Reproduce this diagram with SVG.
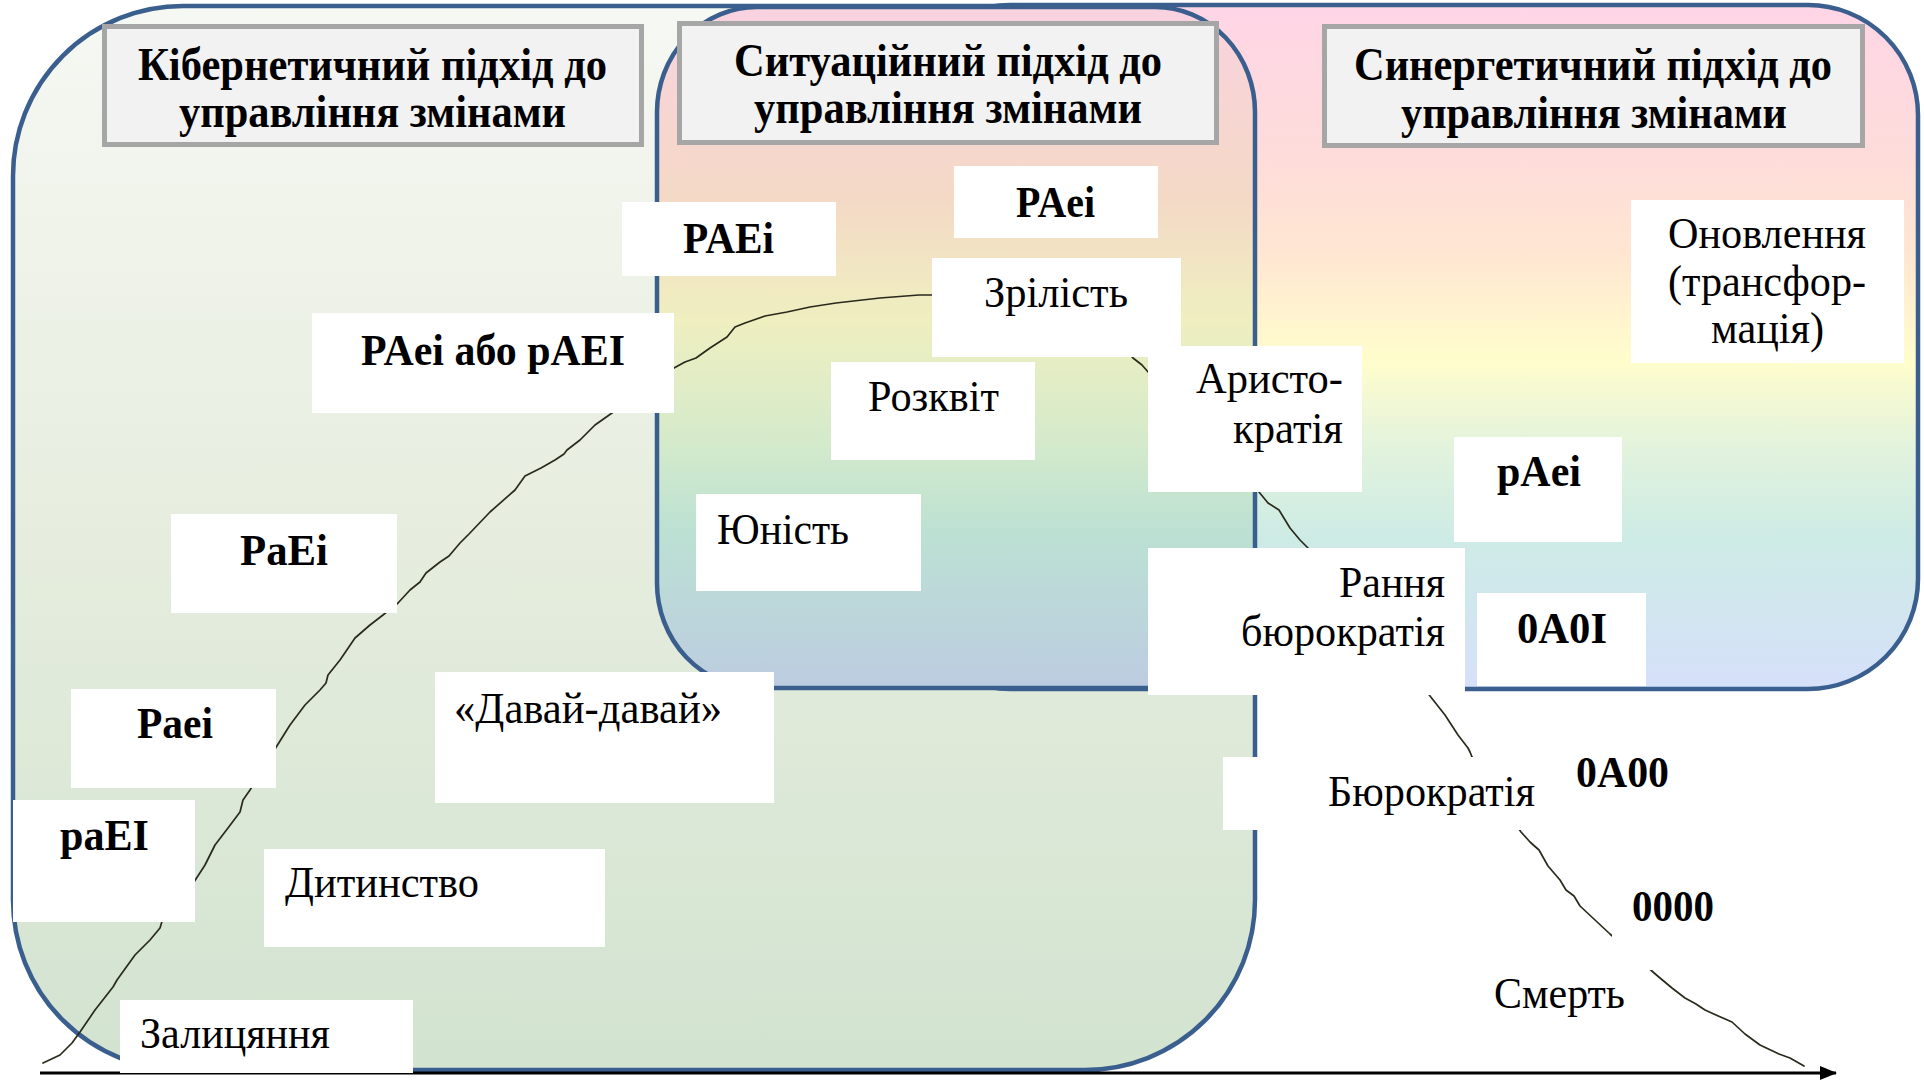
<svg xmlns="http://www.w3.org/2000/svg" width="1924" height="1080" viewBox="0 0 1924 1080">
  <defs>
    <!-- fills of the three approach areas -->
    <linearGradient id="gCyber" gradientUnits="userSpaceOnUse" x1="0" y1="6" x2="0" y2="1070">
      <stop offset="0" stop-color="#F6F8F3"/>
      <stop offset="0.5" stop-color="#E6EDDE"/>
      <stop offset="1" stop-color="#D2E3D0"/>
    </linearGradient>
    <linearGradient id="gSyner" gradientUnits="userSpaceOnUse" x1="0" y1="5" x2="0" y2="689">
      <stop offset="0" stop-color="#FED5E6"/>
      <stop offset="0.22" stop-color="#FEDCDA"/>
      <stop offset="0.36" stop-color="#FFE6D2"/>
      <stop offset="0.52" stop-color="#FFFDCC"/>
      <stop offset="0.65" stop-color="#E2F3DD"/>
      <stop offset="0.78" stop-color="#CDEBE5"/>
      <stop offset="1" stop-color="#D6E0FA"/>
    </linearGradient>
    <linearGradient id="gSitu" gradientUnits="userSpaceOnUse" x1="0" y1="7" x2="0" y2="688">
      <stop offset="0" stop-color="#F9D2E0"/>
      <stop offset="0.28" stop-color="#F4D9C6"/>
      <stop offset="0.46" stop-color="#EFEFC0"/>
      <stop offset="0.64" stop-color="#D4EACB"/>
      <stop offset="0.77" stop-color="#BCE1D3"/>
      <stop offset="1" stop-color="#BCCCE1"/>
    </linearGradient>
    <marker id="arrow" markerWidth="18" markerHeight="14" refX="16" refY="7" orient="auto" markerUnits="userSpaceOnUse">
      <path d="M0,0 L17,7 L0,14 Z" fill="#000"/>
    </marker>
    <style>
      .area { stroke: #3A5F8E; stroke-width: 4.5; }
      .hdr { fill: #F2F2F2; stroke: #A6A6A6; stroke-width: 5; }
      .box { fill: #FFFFFF; }
      .t { font-family: "Liberation Serif", "Times New Roman", serif; font-size: 44px; fill: #000; }
      .b { font-weight: bold; }
      .ttl { font-size: 46px; font-weight: bold; }
      .curve { fill: none; stroke: #2A2A1C; stroke-width: 1.7; stroke-linejoin: round; stroke-linecap: round; }
      .axis { stroke: #000; stroke-width: 3; }
    </style>
  </defs>

  <rect width="1924" height="1080" fill="#FFFFFF"/>

  <!-- approach areas -->
  <g id="area-cybernetic">
    <rect class="area" x="13" y="6" width="1242" height="1064" rx="170" ry="170" fill="url(#gCyber)"/>
  </g>
  <g id="area-synergetic">
    <rect class="area" x="900" y="5" width="1018" height="684" rx="110" ry="110" fill="url(#gSyner)"/>
  </g>
  <g id="area-situational">
    <rect class="area" x="657" y="7" width="598" height="681" rx="100" ry="105" fill="url(#gSitu)" stroke="#485D8C"/>
  </g>

  <!-- time axis and life-cycle curve -->
  <g id="connectors">
    <line class="axis" x1="40" y1="1073" x2="1836" y2="1073" marker-end="url(#arrow)"/>
    <path class="curve" d="M43,1063 L60,1055 L72,1043 L80,1032 L95,1010 L113,987 L117,980 L135,955 L150,940 L160,928 L163,918
      L175,905 L194,882 L205,865 L215,845 L228,828 L240,812 L243,800 L250,790 L262,770 L275,749
      L290,725 L305,705 L320,690 L326,683 L328,675 L340,660 L355,638 L370,625 L383,615 L398,603
      L410,590 L420,582 L426,573 L440,562 L449,556 L460,543 L469,534 L490,512 L515,490 L525,476 L541,468 L555,460 L564,454 L567,450 L580,440 L595,425 L612,413
      L650,385 L674,368 L685,362 L696,358 L710,348 L727,337 L735,327 L745,323 L765,316 L787,312 L810,307 L836,303 L880,298 L919,295 L932,295
      L990,292 L1060,298 L1110,330 L1133,358 L1142,365 L1149,373
      L1220,420 L1259,492 L1268,503 L1279,510 L1290,528 L1300,540 L1308,548
      L1400,650 L1430,696 L1445,715 L1458,735 L1468,748 L1470,752 L1472,757
      L1500,800 L1521,832 L1530,842 L1539,850 L1548,866 L1560,880 L1566,890 L1574,896 L1580,906 L1595,920 L1610,934
      L1653,972 L1660,978 L1672,988 L1685,998 L1696,1004 L1705,1010 L1716,1015 L1732,1022 L1745,1034 L1760,1045 L1779,1054 L1790,1058 L1804,1066"/>
  </g>

  <!-- approach titles -->
  <g id="title-cybernetic">
    <rect class="hdr" x="104.5" y="26.5" width="537" height="118"/>
    <text class="t ttl" x="138" y="80" textLength="469" lengthAdjust="spacingAndGlyphs">Кібернетичний підхід до</text>
    <text class="t ttl" x="179" y="127" textLength="387" lengthAdjust="spacingAndGlyphs">управління змінами</text>
  </g>
  <g id="title-situational">
    <rect class="hdr" x="679.5" y="23.5" width="537" height="119"/>
    <text class="t ttl" x="734" y="76" textLength="428" lengthAdjust="spacingAndGlyphs">Ситуаційний підхід до</text>
    <text class="t ttl" x="754" y="123" textLength="388" lengthAdjust="spacingAndGlyphs">управління змінами</text>
  </g>
  <g id="title-synergetic">
    <rect class="hdr" x="1324.5" y="26.5" width="538" height="119"/>
    <text class="t ttl" x="1354" y="80" textLength="478" lengthAdjust="spacingAndGlyphs">Синергетичний підхід до</text>
    <text class="t ttl" x="1401" y="128" textLength="386" lengthAdjust="spacingAndGlyphs">управління змінами</text>
  </g>

  <!-- life-cycle stages and codes -->
  <g id="code-PAEi">
    <rect class="box" x="622" y="202" width="214" height="74"/>
    <text class="t b" x="683" y="253" textLength="91" lengthAdjust="spacingAndGlyphs">PAEi</text>
  </g>
  <g id="code-PAei">
    <rect class="box" x="954" y="166" width="204" height="72"/>
    <text class="t b" x="1016" y="217" textLength="79" lengthAdjust="spacingAndGlyphs">PAei</text>
  </g>
  <g id="stage-maturity">
    <rect class="box" x="932" y="258" width="249" height="99"/>
    <text class="t" x="984" y="307" textLength="144" lengthAdjust="spacingAndGlyphs">Зрілість</text>
  </g>
  <g id="stage-prime">
    <rect class="box" x="831" y="362" width="204" height="98"/>
    <text class="t" x="868" y="411" textLength="131" lengthAdjust="spacingAndGlyphs">Розквіт</text>
  </g>
  <g id="stage-aristocracy">
    <rect class="box" x="1148" y="346" width="214" height="146"/>
    <text class="t" x="1196" y="393" textLength="147" lengthAdjust="spacingAndGlyphs">Аристо-</text>
    <text class="t" x="1233" y="443" textLength="110" lengthAdjust="spacingAndGlyphs">кратія</text>
  </g>
  <g id="stage-adolescence">
    <rect class="box" x="696" y="494" width="225" height="97"/>
    <text class="t" x="717" y="544" textLength="132" lengthAdjust="spacingAndGlyphs">Юність</text>
  </g>
  <g id="code-PAei-or-pAEI">
    <rect class="box" x="312" y="313" width="362" height="100"/>
    <text class="t b" x="361" y="365" textLength="264" lengthAdjust="spacingAndGlyphs">PAei або pAEI</text>
  </g>
  <g id="code-PaEi">
    <rect class="box" x="171" y="514" width="226" height="99"/>
    <text class="t b" x="240" y="565" textLength="88" lengthAdjust="spacingAndGlyphs">PaEi</text>
  </g>
  <g id="code-Paei">
    <rect class="box" x="71" y="689" width="205" height="99"/>
    <text class="t b" x="137" y="738" textLength="76" lengthAdjust="spacingAndGlyphs">Paei</text>
  </g>
  <g id="code-paEI">
    <rect class="box" x="13" y="800" width="182" height="122"/>
    <text class="t b" x="60" y="850" textLength="89" lengthAdjust="spacingAndGlyphs">paEI</text>
  </g>
  <g id="stage-gogo">
    <rect class="box" x="435" y="672" width="339" height="131"/>
    <text class="t" x="454" y="723" textLength="268" lengthAdjust="spacingAndGlyphs">«Давай-давай»</text>
  </g>
  <g id="stage-infancy">
    <rect class="box" x="264" y="849" width="341" height="98"/>
    <text class="t" x="285" y="897" textLength="194" lengthAdjust="spacingAndGlyphs">Дитинство</text>
  </g>
  <g id="stage-courtship">
    <rect class="box" x="120" y="1000" width="293" height="73"/>
    <text class="t" x="140" y="1048" textLength="190" lengthAdjust="spacingAndGlyphs">Залицяння</text>
  </g>
  <g id="stage-renewal">
    <rect class="box" x="1631" y="200" width="273" height="163"/>
    <text class="t" x="1668" y="248" textLength="198" lengthAdjust="spacingAndGlyphs">Оновлення</text>
    <text class="t" x="1668" y="296" textLength="198" lengthAdjust="spacingAndGlyphs">(трансфор-</text>
    <text class="t" x="1711" y="343" textLength="113" lengthAdjust="spacingAndGlyphs">мація)</text>
  </g>
  <g id="code-pAei">
    <rect class="box" x="1454" y="437" width="168" height="105"/>
    <text class="t b" x="1497" y="486" textLength="84" lengthAdjust="spacingAndGlyphs">pAei</text>
  </g>
  <g id="stage-early-bureaucracy">
    <rect class="box" x="1148" y="548" width="317" height="147"/>
    <text class="t" x="1339" y="597" textLength="106" lengthAdjust="spacingAndGlyphs">Рання</text>
    <text class="t" x="1241" y="646" textLength="204" lengthAdjust="spacingAndGlyphs">бюрократія</text>
  </g>
  <g id="code-0A0I">
    <rect class="box" x="1477" y="593" width="169" height="93"/>
    <text class="t b" x="1517" y="643" textLength="90" lengthAdjust="spacingAndGlyphs">0A0I</text>
  </g>
  <g id="stage-bureaucracy">
    <rect class="box" x="1223" y="757" width="322" height="73"/>
    <text class="t" x="1328" y="806" textLength="207" lengthAdjust="spacingAndGlyphs">Бюрократія</text>
  </g>
  <g id="code-0A00">
    <rect class="box" x="1565" y="742" width="125" height="88"/>
    <text class="t b" x="1576" y="787" textLength="93" lengthAdjust="spacingAndGlyphs">0A00</text>
  </g>
  <g id="code-0000">
    <rect class="box" x="1612" y="880" width="123" height="90"/>
    <text class="t b" x="1632" y="921" textLength="82" lengthAdjust="spacingAndGlyphs">0000</text>
  </g>
  <g id="stage-death">
    <rect class="box" x="1470" y="975" width="170" height="58"/>
    <text class="t" x="1494" y="1008" textLength="131" lengthAdjust="spacingAndGlyphs">Смерть</text>
  </g>
</svg>
